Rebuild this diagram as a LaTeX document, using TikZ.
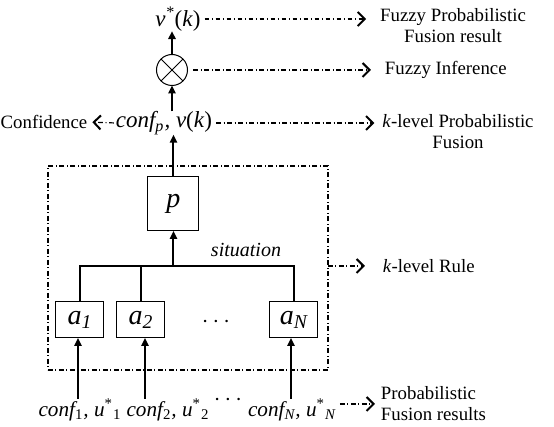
\documentclass[tikz,border=0pt]{standalone}
\usepackage{fontspec}
\setmainfont{Liberation Serif}
\usetikzlibrary{arrows.meta}

\newcommand{\argk}{\textup{(}k\textup{)}}

\begin{document}
\begin{tikzpicture}[x=0.5pt,y=-0.5pt,
   every node/.style={inner sep=0pt, outer sep=0pt},
   flow/.style={line width=1pt, -{Triangle[length=4pt,width=3.6pt]}},
   link/.style={line width=1pt},
   ddline/.style={line width=0.6pt, dash pattern=on 2.4pt off 1.3pt on 0.5pt off 1.3pt},
   note/.style={ddline, -{Straight Barb[length=3.5pt,width=7pt,line width=1pt]}},
   block/.style={draw, line width=0.5pt, minimum width=24pt, minimum height=18pt, font=\fontsize{14}{16}\selectfont\itshape},
   remark/.style={font=\fontsize{9.4}{10.5}\selectfont},
   var/.style={font=\fontsize{11.5}{13}\selectfont\itshape},
   invar/.style={font=\fontsize{10.6}{12}\selectfont\itshape}]
   \useasboundingbox (0,0) rectangle (554,427);

   % fusion column
   \node[var] (vstar) at (178,19) {v\textsuperscript{*}\argk};
   \node[draw, circle, line width=0.5pt, minimum size=15.5pt] (fuse) at (172,70) {};
   \draw[line width=0.5pt] (fuse.north west) -- (fuse.south east) (fuse.north east) -- (fuse.south west);
   \node[var] (confp) at (164,123) {conf\textsubscript{p}, v\argk};
   \draw[flow] (fuse.north) -- (fuse.north |- vstar.south);
   \draw[flow] (confp.north -| fuse) -- (fuse.south);

   % k-level rule
   \node[draw, ddline, minimum width=140pt, minimum height=102pt] (rule) at (188,268) {};
   \node[block, minimum width=25.5pt, minimum height=27pt] (prob) at (173.5,204) {p};
   \node[block] (a1) at (80,320) {a\textsubscript{\textit{1}}};
   \node[block] (a2) at (141,320) {a\textsubscript{\textit{2}}};
   \node[block] (aN) at (294,320) {a\textsubscript{\textit{N}}};
   \node[var] (adots) at (216,322) {$\cdots$};
   \node[font=\fontsize{10}{12}\selectfont\itshape] (sit) at (246,250) {situation};
   \coordinate (bus) at (173.5,266);
   \draw[link] (a1.north) |- (aN.north |- bus) -- (aN.north);
   \draw[link] (a2.north) -- (a2.north |- bus);
   \draw[flow] (bus) -- (prob.south);
   \draw[flow] (prob.north) -- (prob.north |- confp.south);

   % inputs
   \node[invar] (in1) at (80,410) {conf\textsubscript{\upshape 1}, u\textsuperscript{\upshape *}\textsubscript{\upshape 1}};
   \node[invar] (in2) at (168,410) {conf\textsubscript{\upshape 2}, u\textsuperscript{\upshape *}\textsubscript{\upshape 2}};
   \node[invar] (inN) at (292,410) {conf\textsubscript{N}, u\textsuperscript{\upshape *}\textsubscript{N}};
   \node[var] (indots) at (228,400) {$\cdots$};
   \draw[flow] ([xshift=-1pt]a1.south |- in1.north) -- ([xshift=-1pt]a1.south);
   \draw[flow] ([xshift=2pt]a2.south |- in2.north) -- ([xshift=2pt]a2.south);
   \draw[flow] ([xshift=-1.5pt]aN.south |- inN.north) -- ([xshift=-1.5pt]aN.south);

   % remarks
   \node[remark] (confid) at (44,122) {Confidence};
   \node[remark, align=center] (fpf) at (453,26) {Fuzzy Probabilistic\\Fusion result};
   \node[remark, anchor=west] (finf) at (385,70) {Fuzzy Inference};
   \node[remark, align=center] (kpf) at (458,132) {\textit{k}-level Probabilistic\\Fusion};
   \node[remark, anchor=west] (krule) at (383,266) {\textit{k}-level Rule};
   \node[remark, align=left, anchor=west] (pfr) at (381,404) {Probabilistic\\Fusion results};

   \draw[note, shorten <=2pt, shorten >=7pt] (vstar.east) -- (vstar.east -| fpf.west);
   \draw[note, shorten <=3pt, shorten >=7pt] (fuse.east) -- (finf.west);
   \draw[note, shorten <=1pt, shorten >=2.5pt] (confp.west) -- (confid.east);
   \draw[note, shorten <=2pt, shorten >=4pt] (confp.east) -- (confp.east -| kpf.west);
   \draw[note, shorten >=9pt] (krule.west -| rule.east) -- (krule.west);
   \draw[note, shorten <=2pt, shorten >=3pt] (inN.east |- pfr.west) -- (pfr.west);
\end{tikzpicture}
\end{document}
